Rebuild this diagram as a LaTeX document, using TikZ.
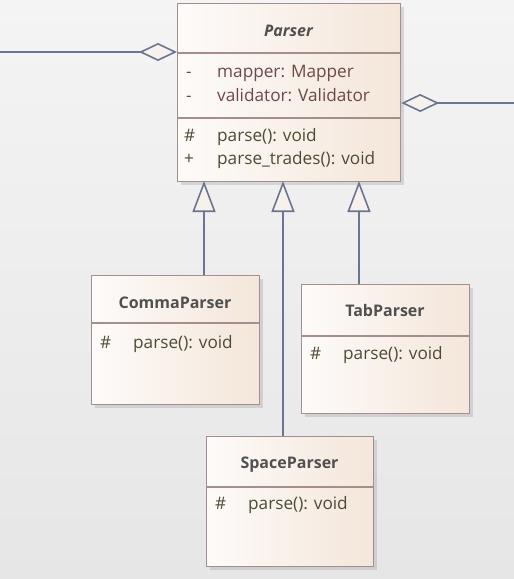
\documentclass[tikz,border=0pt]{standalone}
\usepackage{fontspec}
\setmainfont{Open Sans}
\usetikzlibrary{arrows.meta}
\definecolor{bgA}{HTML}{F4F4F4}
\definecolor{bgB}{HTML}{E6E6E6}
\definecolor{boxL}{HTML}{FDFBF9}
\definecolor{boxR}{HTML}{F4E6DA}
\definecolor{boxline}{HTML}{A48E8E}
\definecolor{conn}{HTML}{6A7590}
\definecolor{tipfill}{HTML}{F7F1EE}
\definecolor{nametext}{HTML}{505050}
\definecolor{attrtext}{HTML}{6E4848}
\definecolor{optext}{HTML}{4C4C36}
\tikzset{
  classbox/.style={draw=boxline, line width=1.2pt, left color=boxL, right color=boxR, anchor=north west, inner sep=0pt},
  shadowbox/.style={fill=black!30, opacity=0.45},
  divider/.style={draw=boxline, line width=1.2pt},
  txt/.style={font=\fontsize{17.2}{19}\selectfont, text height=12pt, text depth=3.5pt, inner sep=0pt},
  cname/.style={txt, font=\fontsize{16}{18}\selectfont\bfseries, text=nametext},
  aname/.style={txt, font=\fontsize{16}{18}\selectfont\bfseries\itshape, text=nametext},
  attr/.style={txt, text=attrtext, anchor=west},
  oper/.style={txt, text=optext, anchor=west},
  aggr/.style={draw=conn, line width=1.6pt, {Diamond[open, length=38pt, width=18pt, fill=tipfill]}-},
  gen/.style={draw=conn, line width=1.6pt, -{Triangle[open, length=31pt, width=23pt, fill=tipfill]}},
}
\begin{document}
\begin{tikzpicture}[x=1pt, y=-1pt]
\shade[top color=bgA, bottom color=bgB] (0,0) rectangle (514,579);
\useasboundingbox (0,0) rectangle (514,579);
% shadows
\fill[shadowbox] (181,7) rectangle (404,185);
\fill[shadowbox] (95,279) rectangle (263,408);
\fill[shadowbox] (305,288) rectangle (473,417);
\fill[shadowbox] (210,440) rectangle (377,570);
% Parser
\node[classbox, minimum width=223pt, minimum height=178pt] (parser) at (177,3) {};
\draw[divider] (177,53) -- (400,53);
\draw[divider] (177,118) -- (400,118);
\node[aname] (pname) at (288.5,32) {Parser};
\node[attr] (pa1) at (186,73) {-};
\node[attr] (pa1t) at (217,73) {mapper: Mapper};
\node[attr] (pa2) at (186,97) {-};
\node[attr] (pa2t) at (217,97) {validator: Validator};
\node[oper] (po1) at (184,137) {\#};
\node[oper] (po1t) at (217,137) {parse(): void};
\node[oper] (po2) at (184,160) {+};
\node[oper] (po2t) at (217,160) {parse\_trades(): void};
% CommaParser
\node[classbox, minimum width=168pt, minimum height=129pt] (comma) at (91,275) {};
\draw[divider] (91,323) -- (259,323);
\node[cname] (cname) at (175,304) {CommaParser};
\node[oper] (co) at (100,344) {\#};
\node[oper] (cot) at (133,344) {parse(): void};
% TabParser
\node[classbox, minimum width=168pt, minimum height=129pt] (tab) at (301,284) {};
\draw[divider] (301,336) -- (469,336);
\node[cname] (tname) at (385,312) {TabParser};
\node[oper] (to) at (310,355) {\#};
\node[oper] (tot) at (343,355) {parse(): void};
% SpaceParser
\node[classbox, minimum width=167pt, minimum height=130pt] (space) at (206,436) {};
\draw[divider] (206,487) -- (373,487);
\node[cname] (sname) at (289.5,464) {SpaceParser};
\node[oper] (so) at (215,505) {\#};
\node[oper] (sot) at (248,505) {parse(): void};
% aggregations
\coordinate (lend) at (0,52);
\coordinate (rend) at (514,103);
\draw[aggr] (parser.north west |- lend) -- (lend);
\draw[aggr] (parser.north east |- rend) -- (rend);
% generalizations
\draw[gen] (comma.north -| 204,0) -- (204,181);
\draw[gen] (space.north -| 283,0) -- (283,181);
\draw[gen] (tab.north -| 359,0) -- (359,181);
\end{tikzpicture}
\end{document}
